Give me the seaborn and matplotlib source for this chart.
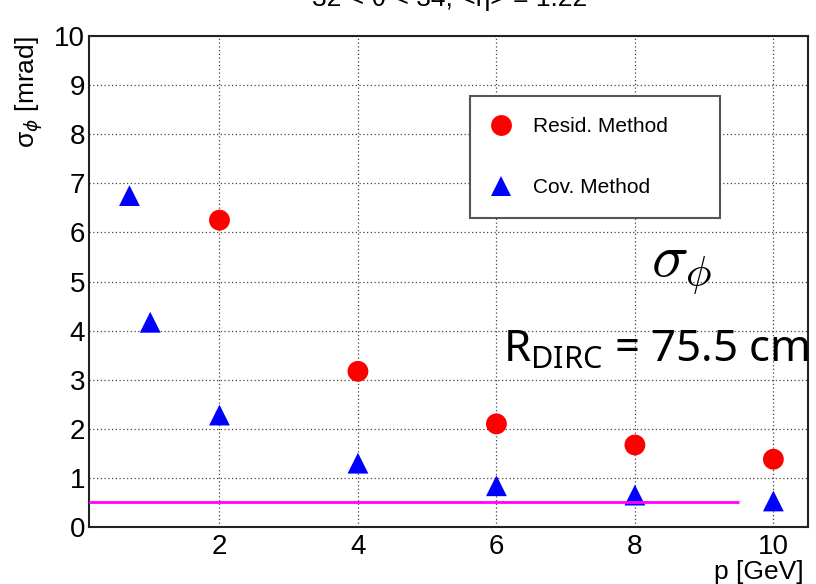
import matplotlib
matplotlib.use("Agg")
import matplotlib.pyplot as plt
from matplotlib.ticker import MultipleLocator
from matplotlib.lines import Line2D
import pandas as pd
import seaborn as sns

# data
p_resid = [2, 4, 6, 8, 10]
sigma_resid = [6.25, 3.17, 2.10, 1.67, 1.38]
p_cov = [0.7, 1, 2, 4, 6, 8, 10]
sigma_cov = [6.75, 4.17, 2.28, 1.30, 0.84, 0.65, 0.53]
methods = ["Resid. Method", "Cov. Method"]
ref_level = 0.5
ref_p_end = 9.5

df = pd.concat([
    pd.DataFrame({"p": p_resid, "sigma": sigma_resid, "method": methods[0]}),
    pd.DataFrame({"p": p_cov, "sigma": sigma_cov, "method": methods[1]}),
], ignore_index=True)

sns.set_style("white")
plt.rcParams["font.family"] = ["Liberation Sans", "DejaVu Sans"]
plt.rcParams["text.color"] = "black"
plt.rcParams["axes.labelcolor"] = "black"
plt.rcParams["mathtext.fontset"] = "custom"
plt.rcParams["mathtext.rm"] = "Noto Sans"
plt.rcParams["mathtext.it"] = "Noto Sans:italic"

fig = plt.figure(figsize=(8.16, 5.84), dpi=100)
ax = fig.add_axes([89.3 / 816, 1 - 527 / 584, (808 - 89.3) / 816, (527 - 36) / 584])

cols = {methods[0]: "#ff0000", methods[1]: "#0000ff"}
marks = {methods[0]: "o", methods[1]: "^"}

ax.hlines(ref_level, 0, ref_p_end, color="#ff00ff", lw=2, zorder=4)
sns.scatterplot(data=df, x="p", y="sigma", hue="method", style="method",
                palette=cols, markers=marks, s=225, linewidth=0,
                legend=False, ax=ax, zorder=3)

ax.set_xlim(0.12, 10.5)
ax.set_ylim(0, 10)
ax.xaxis.set_major_locator(MultipleLocator(2))
ax.xaxis.set_minor_locator(MultipleLocator(0.5))
ax.yaxis.set_major_locator(MultipleLocator(1))
ax.yaxis.set_minor_locator(MultipleLocator(0.2))
ax.tick_params(which="both", direction="in", width=1.3, color="#333333",
               labelsize=20, labelcolor="black", top=False, right=False)
ax.tick_params(which="major", length=10)
ax.tick_params(which="minor", length=5)
ax.tick_params(axis="y", pad=3)
ax.tick_params(axis="x", pad=5)
ax.grid(True, which="major", color="#444444", ls=(0, (1, 2)), lw=0.9)
for s in ax.spines.values():
    s.set_linewidth(1.5)
    s.set_color("#222222")

ax.set_xlabel("p [GeV]", fontsize=19, loc="right")
ax.xaxis.set_label_coords(0.994, -0.068)
ax.set_ylabel(r"σ$_{\phi}$ [mrad]", fontsize=19, loc="top", math_fontfamily="dejavusans")
ax.yaxis.set_label_coords(-0.062, 1.0)

handles = [Line2D([], [], ls="none", marker=marks[m], color=cols[m], markersize=15, markeredgewidth=0)
           for m in methods]
leg = ax.legend(handles, methods, loc="upper left", bbox_to_anchor=(0.53, 0.627, 0.348, 0.25),
                mode="expand", fontsize=15, frameon=True, fancybox=False, framealpha=1,
                borderpad=1.0, labelspacing=2.0, handlelength=1.0, handletextpad=1.0,
                borderaxespad=0)
leg.get_frame().set_edgecolor("#555555")
leg.get_frame().set_linewidth(1.5)
leg.set_zorder(5)

fig.text(450 / 816, 1 - 6 / 584, "32 < θ < 34, <η> = 1.22", ha="center", va="baseline", fontsize=19)
fig.text(682 / 816, 1 - 268 / 584, r"$\sigma_\phi$", ha="center", va="center", fontsize=44,
         math_fontfamily="cm")
fig.text(503 / 816, 1 - 362 / 584, r"R$_{\mathrm{DIRC}}$ = 75.5 cm", ha="left", va="baseline",
         fontsize=31.5, family="Noto Sans", math_fontfamily="custom")

fig.savefig("out.png", dpi=100)
